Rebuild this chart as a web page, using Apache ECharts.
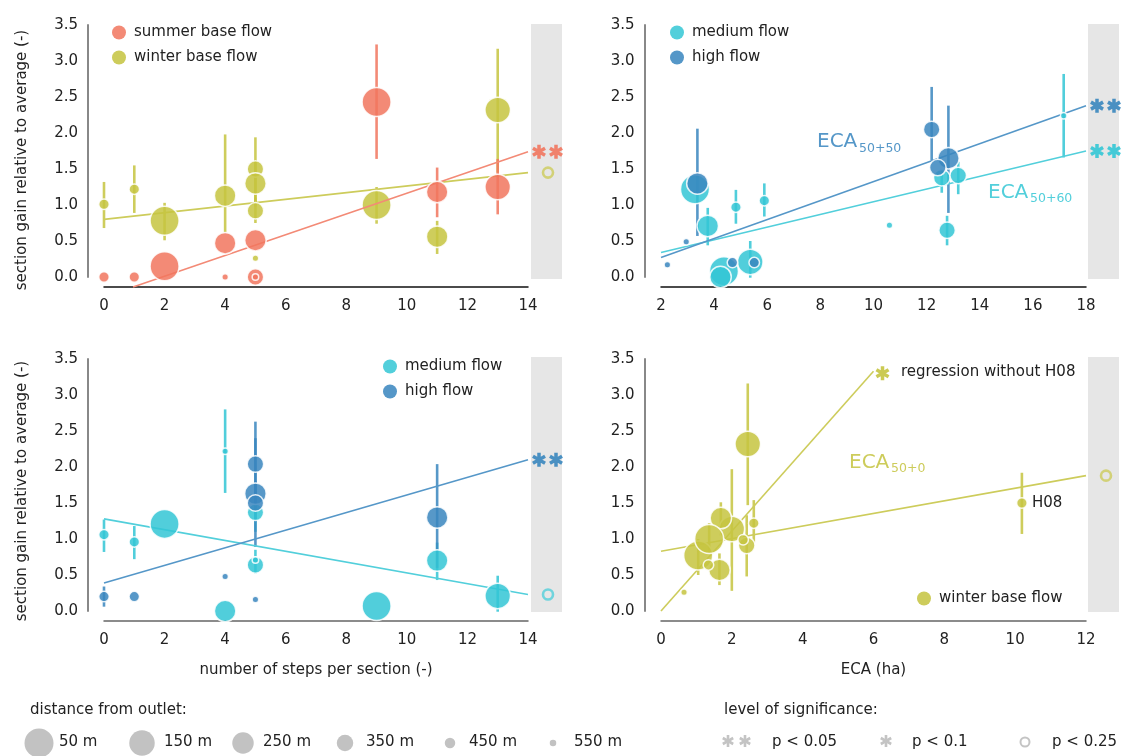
<!DOCTYPE html>
<html>
<head>
<meta charset="utf-8">
<script src="https://cdn.jsdelivr.net/npm/echarts@6.0.0/dist/echarts.min.js"></script>
<style>
html,body{margin:0;padding:0;background:#ffffff;}
#chart{width:1121px;height:756px;}
</style>
</head>
<body>
<div id="chart"></div>
<script>
// ---------------- DATA ----------------
// rows: [x, section gain, error low, error high, distance from outlet (m)]
const stepsSummer = [
  [0, 0.00, null, null, 450],
  [1, 0.00, null, null, 450],
  [2, 0.15, null, null, 50],
  [4, 0.47, null, null, 250],
  [4, 0.00, null, null, 550],
  [5, 0.51, null, null, 250],
  [5, 0.00, null, null, 350],
  [5, 0.00, null, null, 550],
  [9, 2.43, 1.64, 3.23, 50],
  [11, 1.18, 0.83, 1.52, 250],
  [13, 1.25, 0.87, 1.64, 150]
];
const stepsWinter = [
  [0, 1.01, 0.68, 1.32, 450],
  [1, 1.22, 0.89, 1.55, 450],
  [2, 0.78, 0.51, 1.03, 50],
  [4, 1.13, 0.62, 1.98, 250],
  [5, 1.50, 1.05, 1.94, 350],
  [5, 1.30, 0.98, 1.62, 250],
  [5, 0.92, 0.75, 1.10, 350],
  [5, 0.26, null, null, 550],
  [9, 1.00, 0.74, 1.25, 50],
  [11, 0.56, 0.32, 0.78, 250],
  [13, 2.32, 1.45, 3.17, 150]
];
const ecaMedium = [
  [3.28, 1.22, null, null, 50],
  [3.76, 0.71, 0.44, 0.96, 250],
  [4.82, 0.97, 0.74, 1.21, 450],
  [5.89, 1.06, 0.84, 1.30, 450],
  [4.37, 0.08, null, null, 50],
  [4.24, 0.00, null, null, 250],
  [5.36, 0.21, -0.01, 0.50, 150],
  [10.60, 0.72, null, null, 550],
  [12.57, 1.38, 1.17, 1.50, 350],
  [13.19, 1.41, 1.15, 1.60, 350],
  [12.77, 0.65, 0.44, 0.85, 350],
  [17.16, 2.24, 1.66, 2.82, 550]
];
const ecaHigh = [
  [2.24, 0.17, null, null, 550],
  [2.95, 0.49, null, null, 550],
  [3.37, 1.30, 0.57, 2.06, 250],
  [4.69, 0.20, null, null, 450],
  [5.51, 0.20, null, null, 450],
  [12.19, 2.05, 1.62, 2.64, 350],
  [12.82, 1.65, 0.89, 2.38, 250],
  [12.42, 1.52, null, null, 350]
];
const stepsMedium = [
  [0, 1.06, 0.82, 1.27, 450],
  [1, 0.96, 0.72, 1.18, 450],
  [2, 1.21, null, null, 50],
  [4, 2.22, 1.64, 2.80, 550],
  [4, 0.00, null, null, 250],
  [5, 1.37, 1.10, 1.60, 350],
  [5, 0.64, 0.52, 0.85, 350],
  [5, 0.71, null, null, 550],
  [9, 0.07, null, null, 50],
  [11, 0.70, 0.43, 0.95, 250],
  [13, 0.21, -0.01, 0.49, 150]
];
const stepsHigh = [
  [0, 0.20, 0.06, 0.34, 450],
  [1, 0.20, null, null, 450],
  [4, 0.48, null, null, 550],
  [5, 2.04, 1.45, 2.63, 350],
  [5, 1.63, 0.89, 2.40, 250],
  [5, 1.50, 1.25, 1.80, 350],
  [5, 0.16, null, null, 550],
  [11, 1.30, 0.60, 2.04, 250]
];
const ecaWinter = [
  [2.45, 2.32, 1.47, 3.16, 150],
  [2.00, 1.14, 0.28, 1.97, 150],
  [1.69, 1.29, 1.05, 1.51, 250],
  [1.05, 0.77, 0.50, 1.00, 50],
  [1.36, 1.00, 0.80, 1.22, 50],
  [1.65, 0.57, 0.36, 0.80, 250],
  [1.34, 0.64, null, null, 450],
  [2.62, 1.22, 0.95, 1.54, 450],
  [2.42, 0.91, 0.48, 1.33, 350],
  [2.32, 0.99, null, null, 450],
  [0.65, 0.26, null, null, 550],
  [10.19, 1.50, 1.07, 1.92, 450]
];
// regression lines [x, gain]
const stepsSummerFit = [[0.96, -0.14], [14, 1.74]];
const stepsWinterFit = [[0, 0.80], [14, 1.45]];
const ecaHighFit = [[2, 0.27], [18, 2.38]];
const ecaMediumFit = [[2, 0.34], [18, 1.75]];
const stepsMediumFit = [[0, 1.28], [14, 0.23]];
const stepsHighFit = [[0, 0.39], [14, 2.10]];
const ecaWinterFit = [[0, 0.83], [12, 1.88]];
const ecaWinterFitNoH08 = [[0, 0.00], [6.0, 3.33]];
// legend classes
const distanceClasses = [50, 150, 250, 350, 450, 550];
const sigLabels = ['p < 0.05', 'p < 0.1', 'p < 0.25'];

// ---------------- STYLE ----------------
const FONT = 'DejaVu Sans';
const SIZE = {50: 29, 150: 25.5, 250: 21.5, 350: 16.5, 450: 10.5, 550: 6.5};
const COL = {
  summer: {base: '#F1755E', solid: '#F38A76'},
  winter: {base: '#C5C440', solid: '#CDCC5B'},
  medium: {base: '#33C6D5', solid: '#52CFDB'},
  high:   {base: '#3986BE', solid: '#5597C8'}
};
const AST = 'M-1.5,-6L1.5,-6L1.5,6L-1.5,6Z M4.446,-4.299L5.946,-1.701L-4.446,4.299L-5.946,1.701Z M-5.946,-1.701L-4.446,-4.299L5.946,1.701L4.446,4.299Z';

function bubbles(name, rows, c, gi, z) {
  return {type: 'scatter', name: name, xAxisIndex: gi, yAxisIndex: gi,
    data: rows.map(r => [r[0], r[1], r[4]]), symbol: 'circle',
    symbolSize: v => SIZE[v[2]],
    itemStyle: {color: c.base, opacity: 0.85, borderColor: '#ffffff', borderWidth: 1.5},
    clip: false, z: z, silent: true, emphasis: {disabled: true}};
}
function errBars(rows, c, gi, z) {
  return {type: 'custom', xAxisIndex: gi, yAxisIndex: gi,
    data: rows.filter(r => r[2] !== null).map(r => [r[0], r[1], r[2], r[3]]),
    encode: {x: 0, y: 1}, clip: false, z: z, silent: true,
    renderItem: function (params, api) {
      const x = api.value(0);
      const a = api.coord([x, api.value(2)]);
      const b = api.coord([x, api.value(3)]);
      return {type: 'line', shape: {x1: a[0], y1: a[1], x2: b[0], y2: b[1]},
        style: {stroke: c.base, lineWidth: 2.6, opacity: 0.85}};
    }};
}
function fit(pts, c, gi, z) {
  return {type: 'line', xAxisIndex: gi, yAxisIndex: gi, data: pts, symbol: 'none',
    lineStyle: {color: c.solid, width: 1.6}, clip: false, z: z, silent: true};
}
function sig(level, pts, c, gi) {
  const end = pts[pts.length - 1];
  let data;
  if (level === '**' || level === '*') {
    data = level === '**'
      ? [{value: end, symbolOffset: [11, 0]}, {value: end, symbolOffset: [28, 0]}]
      : [{value: end, symbolOffset: [9, 2]}];
    return {type: 'scatter', xAxisIndex: gi, yAxisIndex: gi, data: data, symbol: 'path://' + AST,
      symbolSize: 14, symbolKeepAspect: true, itemStyle: {color: c.base, opacity: 0.9}, clip: false, z: 10, silent: true};
  }
  data = [{value: end, symbolOffset: [20, 0]}];
  return {type: 'scatter', xAxisIndex: gi, yAxisIndex: gi, data: data, symbol: 'circle',
    symbolSize: 10, itemStyle: {color: 'rgba(0,0,0,0)', borderColor: c.solid, borderWidth: 2.6}, clip: false, z: 10, silent: true};
}

const grids = [
  {left: 104, top: 25, width: 424, height: 252},
  {left: 661, top: 25, width: 425, height: 252},
  {left: 104, top: 359, width: 424, height: 252},
  {left: 661, top: 359, width: 425, height: 252}
];

function xAx(gi, min, max, lineColor, name) {
  return {type: 'value', gridIndex: gi, min: min, max: max, interval: 2, offset: 10,
    axisLine: {show: true, onZero: false, lineStyle: {color: lineColor, width: 1.5}},
    axisTick: {show: false}, splitLine: {show: false},
    axisLabel: {color: '#222', fontSize: 15, fontFamily: FONT, margin: 12},
    name: name || '', nameLocation: 'middle', nameGap: 42,
    nameTextStyle: {color: '#222', fontSize: 15, fontFamily: FONT}};
}
function yAx(gi, name, padR) {
  return {type: 'value', gridIndex: gi, min: 0, max: 3.5, interval: 0.5, offset: gi % 2 === 0 ? 16 : 16.5,
    axisLine: {show: true, onZero: false, lineStyle: {color: '#888', width: 2}},
    axisTick: {show: false}, splitLine: {show: false},
    axisLabel: {color: '#222', fontSize: 15, fontFamily: FONT, margin: 10, formatter: v => v.toFixed(1)},
    name: name || '', nameLocation: 'middle', nameGap: 58,
    nameTextStyle: {color: '#222', fontSize: 15, fontFamily: FONT, padding: [0, padR || 0, 0, 0]}};
}
const yName = 'section gain relative to average (-)';

const series = [
  // panel 1
  errBars(stepsWinter, COL.winter, 0, 2), fit(stepsWinterFit, COL.winter, 0, 3), bubbles('winter base flow', stepsWinter, COL.winter, 0, 4),
  errBars(stepsSummer, COL.summer, 0, 5), fit(stepsSummerFit, COL.summer, 0, 6), bubbles('summer base flow', stepsSummer, COL.summer, 0, 7),
  sig('**', stepsSummerFit, COL.summer, 0), sig('o', stepsWinterFit, COL.winter, 0),
  // panel 2
  errBars(ecaMedium, COL.medium, 1, 2), errBars(ecaHigh, COL.high, 1, 2),
  fit(ecaMediumFit, COL.medium, 1, 3), fit(ecaHighFit, COL.high, 1, 3),
  bubbles('medium flow', ecaMedium, COL.medium, 1, 4), bubbles('high flow', ecaHigh, COL.high, 1, 5),
  sig('**', ecaHighFit, COL.high, 1), sig('**', ecaMediumFit, COL.medium, 1),
  // panel 3
  errBars(stepsMedium, COL.medium, 2, 2), errBars(stepsHigh, COL.high, 2, 2),
  fit(stepsMediumFit, COL.medium, 2, 3), fit(stepsHighFit, COL.high, 2, 3),
  bubbles('medium flow', stepsMedium, COL.medium, 2, 4), bubbles('high flow', stepsHigh, COL.high, 2, 5),
  sig('**', stepsHighFit, COL.high, 2), sig('o', stepsMediumFit, COL.medium, 2),
  // panel 4
  errBars(ecaWinter, COL.winter, 3, 2),
  fit(ecaWinterFit, COL.winter, 3, 3), fit(ecaWinterFitNoH08, COL.winter, 3, 3),
  bubbles('winter base flow', ecaWinter, COL.winter, 3, 4),
  sig('o', ecaWinterFit, COL.winter, 3), sig('*', ecaWinterFitNoH08, COL.winter, 3)
];

function leg(items, left, top) {
  return {data: items.map(it => ({name: it[0], itemStyle: {color: it[1], borderWidth: 0, opacity: 1}})),
    left: left, top: top, orient: 'vertical', icon: 'circle',
    itemWidth: 14, itemHeight: 14, itemGap: 10, selectedMode: false, padding: 0,
    textStyle: {color: '#222', fontSize: 15, fontFamily: FONT, padding: [0, 0, 0, 3]}};
}

const txt = (x, y, s, size, color, weight) => ({type: 'text', x: x, y: y, z: 100,
  style: {text: s, fill: color || '#222', fontSize: size, fontFamily: FONT, fontWeight: weight || 'normal',
    align: 'left', verticalAlign: 'middle'}});
// asterisk made of three strokes
const star = (cx, cy, color) => ({type: 'group', z: 100, children: [90, 30, 150].map(a => {
  const r = a * Math.PI / 180, dx = 6 * Math.cos(r), dy = 6 * Math.sin(r);
  return {type: 'line', shape: {x1: cx - dx, y1: cy - dy, x2: cx + dx, y2: cy + dy}, style: {stroke: color, lineWidth: 2.6}, z: 100};
})});

const graphic = [];
// grey significance bands
[[531, 24], [1088, 24], [531, 357], [1088, 357]].forEach(p => {
  graphic.push({type: 'rect', shape: {x: p[0], y: p[1], width: 31, height: 255}, style: {fill: '#e6e6e6'}, z: 0});
});
// in-plot labels
graphic.push(txt(817, 141.5, 'ECA', 20, COL.high.solid), txt(859, 148.5, '50+50', 12.5, COL.high.solid));
graphic.push(txt(988, 193, 'ECA', 20, COL.medium.solid), txt(1030, 199, '50+60', 12.5, COL.medium.solid));
graphic.push(txt(849, 462.5, 'ECA', 20, COL.winter.solid), txt(891, 469, '50+0', 12.5, COL.winter.solid));
graphic.push(txt(901, 372, 'regression without H08', 15));
graphic.push(txt(1032, 503, 'H08', 15));
// bottom legends
graphic.push(txt(30, 710, 'distance from outlet:', 15));
const legX = [[39, 59], [142, 164], [243, 263], [345, 366], [450, 469], [553, 574]];
distanceClasses.forEach((d, i) => {
  graphic.push({type: 'circle', shape: {cx: legX[i][0], cy: 743, r: SIZE[d] / 2}, style: {fill: '#c2c2c2'}, z: 100});
  graphic.push(txt(legX[i][1], 742, d + ' m', 15));
});
graphic.push(txt(724, 710, 'level of significance:', 15));
graphic.push(star(728, 741, '#c4c4c4'), star(745, 741, '#c4c4c4'));
graphic.push(txt(772, 742, sigLabels[0], 15));
graphic.push(star(886, 741, '#c4c4c4'));
graphic.push(txt(912, 742, sigLabels[1], 15));
graphic.push({type: 'circle', shape: {cx: 1025, cy: 742, r: 4.5}, style: {fill: 'none', stroke: '#c4c4c4', lineWidth: 2}, z: 100});
graphic.push(txt(1052, 742, sigLabels[2], 15));

const chart = echarts.init(document.getElementById('chart'), null, {renderer: 'canvas'});
chart.setOption({
  animation: false,
  backgroundColor: '#ffffff',
  textStyle: {fontFamily: FONT},
  grid: grids,
  xAxis: [xAx(0, 0, 14, '#111'), xAx(1, 2, 18, '#111'),
          xAx(2, 0, 14, '#666', 'number of steps per section (-)'), xAx(3, 0, 12, '#666', 'ECA (ha)')],
  yAxis: [yAx(0, yName, 18), yAx(1), yAx(2, yName, 12), yAx(3)],
  legend: [leg([['summer base flow', COL.summer.solid], ['winter base flow', COL.winter.solid]], 112, 25),
           leg([['medium flow', COL.medium.solid], ['high flow', COL.high.solid]], 670, 25),
           leg([['medium flow', COL.medium.solid], ['high flow', COL.high.solid]], 383, 359),
           leg([['winter base flow', COL.winter.solid]], 917, 591)],
  series: series,
  graphic: graphic
});
</script>
</body>
</html>
